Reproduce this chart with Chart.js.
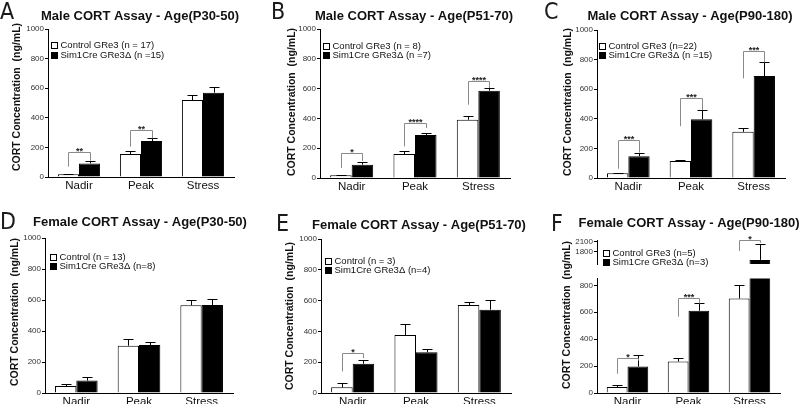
<!DOCTYPE html>
<html>
<head>
<meta charset="utf-8">
<script src="https://cdn.jsdelivr.net/npm/chart.js@4.4.1/dist/chart.umd.min.js"></script>
<style>
  body { margin: 0; width: 800px; height: 404px; background: #fff; position: relative; overflow: hidden; }
  canvas { position: absolute; }
  .letter { position: absolute; font: 23px/1 "Liberation Sans Narrow", "DejaVu Sans Condensed", sans-serif; color: #1a1a1a; }
</style>
</head>
<body>
<script>
const FONT = '"Liberation Sans", Arial, sans-serif';

const categories = ['Nadir', 'Peak', 'Stress'];
const yAxisTitle = 'CORT Concentration  (ng/mL)';
const fullTicks = [0, 200, 400, 600, 800, 1000];
const lowerTicksF = [0, 200, 400, 600, 800];
const upperTicksF = [1800, 2100];

// A - male P30-50
const titleA = 'Male CORT Assay - Age(P30-50)';
const legendA = ['Control GRe3 (n = 17)', 'Sim1Cre GRe3\u0394 (n =15)'];
const controlA = [18, 155, 520];
const controlSemA = [3, 23, 32];
const mutantA = [92, 243, 570];
const mutantSemA = [18, 18, 36];
// [category, bracket level, left leg end, right leg end, label]
const starsA = [[0, 171, 70, 110, '**'], [1, 318, 205, 261, '**']];

// B - male P51-70
const titleB = 'Male CORT Assay - Age(P51-70)';
const legendB = ['Control GRe3 (n = 8)', 'Sim1Cre GRe3\u0394 (n =7)'];
const controlB = [18, 161, 391];
const controlSemB = [2, 20, 25];
const mutantB = [89, 289, 586];
const mutantSemB = [18, 13, 20];
const starsB = [[0, 168, 67, 115, '*'], [1, 369, 212, 336, '****'], [2, 649, 492, 604, '****']];

// C - male P90-180
const titleC = 'Male CORT Assay - Age(P90-180)';
const legendC = ['Control GRe3 (n=22)', 'Sim1Cre GRe3\u0394 (n =15)'];
const controlC = [32, 115, 312];
const controlSemC = [3, 9, 24];
const mutantC = [147, 397, 689];
const mutantSemC = [25, 61, 92];
const starsC = [[0, 255, 63, 172, '***'], [1, 538, 350, 458, '***'], [2, 860, 673, 781, '***']];

// D - female P30-50
const titleD = 'Female CORT Assay - Age(P30-50)';
const legendD = ['Control (n = 13)', 'Sim1Cre GRe3\u0394 (n=8)'];
const controlD = [45, 305, 566];
const controlSemD = [14, 45, 32];
const mutantD = [80, 309, 568];
const mutantSemD = [21, 19, 38];
const starsD = [];

// E - female P51-70
const titleE = 'Female CORT Assay - Age(P51-70)';
const legendE = ['Control (n = 3)', 'Sim1Cre GRe3\u0394 (n=4)'];
const controlE = [37, 377, 571];
const controlSemE = [28, 73, 20];
const mutantE = [190, 264, 541];
const mutantSemE = [24, 24, 65];
const starsE = [[0, 262, 140, 226, '*']];

// F - female P90-180 (broken axis)
const titleF = 'Female CORT Assay - Age(P90-180)';
const legendF = ['Control GRe3 (n=5)', 'Sim1Cre GRe3\u0394 (n=3)'];
const controlF = [45, 234, 702];
const controlSemF = [12, 25, 103];
const mutantF = [197, 611, 1560];
const mutantSemF = [86, 56, 450];
const starsFLower = [[0, 259, 143, 240, '*'], [1, 709, 567, 665, '***']];
const starsFUpper = [[2, 2150, 1820, 2060, '*']];

const panels = [
  { letter: 'A', title: titleA, legend: legendA, control: controlA, controlSem: controlSemA, mutant: mutantA, mutantSem: mutantSemA,
    stars: starsA, ticks: fullTicks, min: 0, max: 1000,
    box: [0, 0, 265, 200], area: [48, 29, 234, 177], titleAt: [140, 16], yTitleAt: [17, 97], legendAt: [51, 45.5], letterAt: [0, 0] },
  { letter: 'B', title: titleB, legend: legendB, control: controlB, controlSem: controlSemB, mutant: mutantB, mutantSem: mutantSemB,
    stars: starsB, ticks: fullTicks, min: 0, max: 1000,
    box: [265, 0, 265, 200], area: [320, 29, 510, 178], titleAt: [414, 16], yTitleAt: [292, 102], legendAt: [323, 46], letterAt: [271, 0] },
  { letter: 'C', title: titleC, legend: legendC, control: controlC, controlSem: controlSemC, mutant: mutantC, mutantSem: mutantSemC,
    stars: starsC, ticks: fullTicks, min: 0, max: 1000,
    box: [530, 0, 270, 200], area: [597, 30, 785, 178], titleAt: [690, 16], yTitleAt: [568, 102], legendAt: [599, 46], letterAt: [544, 0] },
  { letter: 'D', title: titleD, legend: legendD, control: controlD, controlSem: controlSemD, mutant: mutantD, mutantSem: mutantSemD,
    stars: starsD, ticks: fullTicks, min: 0, max: 1000,
    box: [0, 200, 265, 204], area: [45, 238, 233, 393], titleAt: [140, 222], yTitleAt: [15, 312], legendAt: [50, 257], letterAt: [0, 210] },
  { letter: 'E', title: titleE, legend: legendE, control: controlE, controlSem: controlSemE, mutant: mutantE, mutantSem: mutantSemE,
    stars: starsE, ticks: fullTicks, min: 0, max: 1000,
    box: [265, 200, 265, 204], area: [321, 239, 511, 393], titleAt: [419, 225], yTitleAt: [290, 316], legendAt: [325, 261], letterAt: [276, 212] },
  { letter: 'F', title: titleF, legend: legendF, control: controlF, controlSem: controlSemF, mutant: mutantF, mutantSem: mutantSemF,
    stars: starsFLower, ticks: lowerTicksF, min: 0, max: 850,
    box: [530, 200, 270, 204], area: [597, 278.6, 780, 393], titleAt: [689, 223], yTitleAt: [567, 315], legendAt: [603, 253], letterAt: [551, 212] },
  { control: controlF, controlSem: controlSemF, mutant: mutantF, mutantSem: mutantSemF, hideX: true,
    stars: starsFUpper, ticks: upperTicksF, min: 1440, max: 2140,
    box: [530, 230, 270, 50], area: [597, 240, 780, 272] }
];

function decor(p) {
  const bx = p.box[0], by = p.box[1];
  return {
    id: 'decor',
    afterDatasetsDraw(chart) {
      const ctx = chart.ctx, ys = chart.scales.y, a = chart.chartArea;
      // error bars (upper side only), clipped to the plot
      ctx.save();
      ctx.beginPath();
      ctx.rect(a.left - 8, a.top, a.right - a.left + 16, a.bottom - a.top);
      ctx.clip();
      ctx.strokeStyle = '#000';
      ctx.lineWidth = 1;
      [[p.control, p.controlSem], [p.mutant, p.mutantSem]].forEach(([vals, sems], d) => {
        chart.getDatasetMeta(d).data.forEach((bar, i) => {
          const x = Math.round(bar.x) + 0.5;
          const top = Math.round(ys.getPixelForValue(vals[i] + sems[i])) + 0.5;
          ctx.beginPath();
          ctx.moveTo(x, bar.y);
          ctx.lineTo(x, top);
          ctx.moveTo(x - 5, top);
          ctx.lineTo(x + 5, top);
          ctx.stroke();
        });
      });
      ctx.restore();

      // significance brackets
      ctx.save();
      ctx.strokeStyle = '#8a8a8a';
      ctx.lineWidth = 1;
      ctx.fillStyle = '#222';
      ctx.font = 'bold 9px ' + FONT;
      ctx.textAlign = 'center';
      ctx.textBaseline = 'alphabetic';
      p.stars.forEach(([i, level, leftEnd, rightEnd, label]) => {
        const xl = Math.round(chart.getDatasetMeta(0).data[i].x) + 0.5;
        const xr = Math.round(chart.getDatasetMeta(1).data[i].x) + 0.5;
        const py = Math.round(ys.getPixelForValue(level)) + 0.5;
        ctx.beginPath();
        ctx.moveTo(xl, ys.getPixelForValue(leftEnd));
        ctx.lineTo(xl, py);
        ctx.lineTo(xr, py);
        ctx.lineTo(xr, ys.getPixelForValue(rightEnd));
        ctx.stroke();
        ctx.fillText(label, (xl + xr) / 2, py + 1.5);
      });
      ctx.restore();
    },
    afterDraw(chart) {
      if (!p.title) return;
      const ctx = chart.ctx;
      ctx.save();
      ctx.fillStyle = '#111';
      ctx.textAlign = 'center';
      ctx.textBaseline = 'middle';
      ctx.font = 'bold 13px ' + FONT;
      ctx.fillText(p.title, p.titleAt[0] - bx, p.titleAt[1] - by);

      ctx.save();
      ctx.translate(p.yTitleAt[0] - bx, p.yTitleAt[1] - by);
      ctx.rotate(-Math.PI / 2);
      ctx.font = 'bold 10.5px ' + FONT;
      ctx.fillText(yAxisTitle, 0, 0);
      ctx.restore();

      ctx.font = '9.5px ' + FONT;
      ctx.textAlign = 'left';
      p.legend.forEach((txt, r) => {
        const lx = p.legendAt[0] - bx;
        const ly = p.legendAt[1] - by + r * 9.5;
        ctx.fillStyle = r === 0 ? '#fff' : '#000';
        ctx.fillRect(lx, Math.round(ly - 3.5), 7, 7);
        ctx.strokeStyle = '#000';
        ctx.lineWidth = 1;
        ctx.strokeRect(lx + 0.5, Math.round(ly - 3.5) + 0.5, 6, 6);
        ctx.fillStyle = '#111';
        ctx.fillText(txt, lx + 9.5, ly);
      });
      ctx.restore();
    }
  };
}

function makeChart(p) {
  const [bx, by, bw, bh] = p.box;
  const [al, at, ar, ab] = p.area;
  const cv = document.createElement('canvas');
  cv.width = bw;
  cv.height = bh;
  cv.style.left = bx + 'px';
  cv.style.top = by + 'px';
  document.body.appendChild(cv);

  if (p.letter) {
    const d = document.createElement('div');
    d.className = 'letter';
    d.textContent = p.letter;
    d.style.left = p.letterAt[0] + 'px';
    d.style.top = p.letterAt[1] + 'px';
    document.body.appendChild(d);
  }

  new Chart(cv, {
    type: 'bar',
    data: {
      labels: categories,
      datasets: [
        { data: p.control, backgroundColor: '#fff', borderColor: '#000', borderWidth: 1, clip: 0 },
        { data: p.mutant, backgroundColor: '#000', borderColor: '#000', borderWidth: 1, clip: 0 }
      ]
    },
    options: {
      responsive: false,
      animation: false,
      devicePixelRatio: 1,
      layout: { padding: { left: 0, top: at - by, right: bx + bw - ar, bottom: p.hideX ? by + bh - ab : 0 } },
      plugins: { legend: { display: false }, tooltip: { enabled: false } },
      datasets: { bar: { categoryPercentage: 0.68, barPercentage: 1 } },
      scales: {
        x: {
          display: !p.hideX,
          grid: { display: false, drawTicks: false },
          border: { display: true, color: '#000', width: 1 },
          ticks: { padding: 2, color: '#111', maxRotation: 0, font: { family: FONT, size: 11.5 } },
          afterFit: s => { s.height = by + bh - ab; }
        },
        y: {
          min: p.min,
          max: p.max,
          grid: { drawOnChartArea: false, drawTicks: true, tickLength: 3, color: '#000', lineWidth: 1 },
          border: { display: true, color: '#000', width: 1 },
          ticks: { padding: 1, color: '#333', font: { family: FONT, size: 8 }, callback: v => String(v) },
          afterBuildTicks: s => { s.ticks = p.ticks.map(v => ({ value: v })); },
          afterFit: s => { s.width = al - bx; }
        }
      }
    },
    plugins: [decor(p)]
  });
}

panels.forEach(makeChart);
</script>
</body>
</html>
